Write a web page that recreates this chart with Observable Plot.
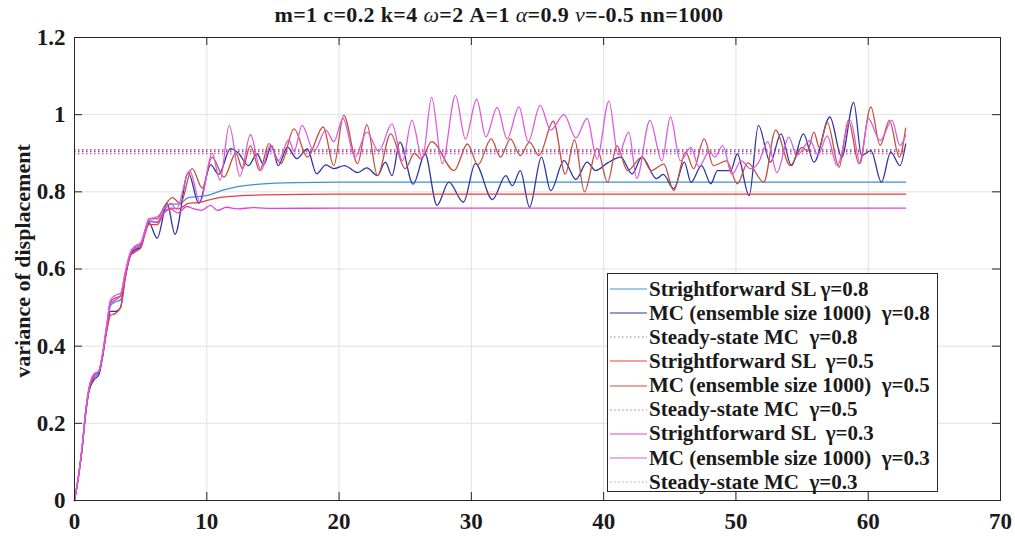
<!DOCTYPE html>
<html>
<head>
<meta charset="utf-8">
<script src="https://cdn.jsdelivr.net/npm/d3@7"></script>
<script src="https://cdn.jsdelivr.net/npm/@observablehq/plot@0.6"></script>
<style>
  body { margin: 0; background: #fff; }
  #wrap { position: relative; width: 1015px; height: 539px; font-family: "Liberation Serif", "Times New Roman", serif; color: #1a1a1a; }
  #title { height: 28px; line-height: 30px; font-size: 22px; letter-spacing: 0.35px; font-weight: bold; text-align: center; padding-right: 17px; white-space: pre; }
  #title i { font-weight: normal; }
  #legend { position: absolute; left: 607px; top: 273px; width: 331px; height: 219px; border: 1px solid #262626; background: #fff; padding-top: 3px; box-sizing: border-box; }
  .row { height: 24.15px; display: flex; align-items: center; font-size: 21px; font-weight: bold; white-space: pre; }
  .row svg { margin-left: 2px; margin-right: 2px; flex: none; }
</style>
</head>
<body>
<div id="wrap">
  <div id="title">m=1 c=0.2 k=4 <i>ω</i>=2 A=1 <i>α</i>=0.9 <i>ν</i>=-0.5 nn=1000</div>
  <div id="chart"></div>
  <div id="legend"></div>
</div>
<script>
// ---- data ----
const T_END = 62.83;
const xTicks = [0, 10, 20, 30, 40, 50, 60, 70];
const yTicks = [0, 0.2, 0.4, 0.6, 0.8, 1, 1.2];

// Straightforward SL, gamma = 0.8
const sl08 = [[0,0],[0.33,0.07],[0.58,0.138],[0.83,0.225],[1.08,0.285],[1.46,0.318],[1.84,0.33],[2.09,0.37],[2.47,0.455],[2.72,0.505],[3.1,0.515],[3.48,0.52],[3.85,0.585],[4.23,0.637],[4.61,0.652],[5.0,0.66],[5.37,0.70],[5.62,0.722],[6.25,0.722],[6.75,0.75],[7.3,0.768],[7.9,0.768],[8.6,0.785],[9.5,0.788],[10.3,0.793],[11.1,0.803],[12.0,0.811],[14.0,0.82],[16.8,0.824],[20.0,0.825],[62.83,0.825]];
// MC (ensemble size 1000), gamma = 0.8
const mc08 = [[0,0],[0.33,0.068],[0.58,0.135],[0.83,0.22],[1.08,0.28],[1.46,0.312],[1.84,0.326],[2.09,0.365],[2.47,0.45],[2.72,0.49],[3.1,0.49],[3.48,0.50],[3.85,0.58],[4.23,0.635],[4.61,0.65],[5.0,0.655],[5.37,0.70],[5.62,0.72],[6.25,0.68],[7.0,0.77],[7.6,0.69],[8.6,0.85],[9.4,0.77],[10.3,0.87],[10.9,0.845],[11.8,0.912],[12.4,0.90],[13.15,0.868],[13.8,0.898],[14.3,0.87],[14.9,0.92],[15.4,0.868],[16.1,0.916],[16.8,0.886],[17.6,0.911],[18.3,0.847],[19.0,0.87],[19.6,0.86],[20.4,0.868],[21.4,0.85],[22.1,0.862],[22.9,0.842],[23.5,0.877],[24.0,0.842],[24.6,0.929],[25.6,0.82],[26.5,0.898],[27.4,0.765],[28.3,0.825],[29.4,0.773],[30.3,0.873],[31.6,0.78],[32.6,0.842],[33.1,0.816],[33.7,0.855],[34.4,0.76],[35.3,0.89],[36.0,0.803],[37.0,0.881],[37.9,0.832],[38.75,0.877],[39.4,0.855],[40.3,0.875],[41.3,0.89],[42.15,0.846],[42.9,0.89],[44.0,0.834],[44.5,0.845],[45.3,0.808],[46.1,0.877],[46.6,0.825],[47.4,0.868],[48.1,0.821],[48.6,0.855],[49.6,0.855],[50.1,0.898],[51.0,0.79],[51.7,0.972],[52.6,0.877],[53.4,0.95],[54.2,0.868],[55.1,0.95],[55.9,0.877],[57.1,0.994],[58.0,0.89],[58.9,1.032],[59.5,0.894],[60.2,0.907],[61.0,0.825],[61.7,0.903],[62.4,0.868],[62.83,0.924]];
// Straightforward SL, gamma = 0.5
const sl05 = [[0,0],[0.33,0.069],[0.58,0.137],[0.83,0.222],[1.08,0.283],[1.46,0.322],[1.84,0.335],[2.09,0.37],[2.47,0.445],[2.72,0.48],[3.1,0.485],[3.48,0.50],[3.85,0.58],[4.23,0.635],[4.61,0.645],[5.0,0.655],[5.37,0.695],[5.62,0.715],[6.25,0.715],[6.75,0.745],[7.3,0.758],[7.9,0.756],[8.6,0.77],[9.5,0.773],[10.5,0.782],[11.8,0.788],[14.3,0.792],[20.0,0.794],[62.83,0.794]];
// MC (ensemble size 1000), gamma = 0.5
const mc05 = [[0,0],[0.33,0.07],[0.58,0.139],[0.83,0.226],[1.08,0.287],[1.46,0.325],[1.84,0.334],[2.09,0.372],[2.47,0.46],[2.72,0.515],[3.1,0.525],[3.48,0.53],[3.85,0.59],[4.23,0.64],[4.61,0.66],[5.0,0.665],[5.37,0.705],[5.62,0.73],[6.25,0.73],[6.75,0.76],[7.4,0.785],[8.0,0.77],[8.9,0.86],[9.65,0.81],[10.4,0.89],[11.3,0.838],[12.2,0.90],[12.7,0.86],[13.3,0.92],[14.0,0.855],[14.7,0.925],[15.6,0.873],[16.6,0.963],[17.6,0.89],[18.8,0.968],[19.6,0.868],[20.35,0.998],[21.4,0.873],[22.1,0.974],[22.9,0.842],[23.9,0.95],[25.0,0.86],[25.7,0.90],[26.2,0.885],[27.0,0.93],[28.7,0.855],[29.7,0.924],[30.5,0.87],[31.5,0.937],[32.2,0.89],[32.95,0.937],[33.7,0.894],[34.4,0.929],[35.1,0.894],[36.2,0.983],[37.1,0.846],[37.8,0.935],[38.55,0.80],[39.5,0.912],[40.3,0.825],[41.0,0.92],[41.8,0.855],[42.9,0.89],[43.6,0.855],[44.55,0.872],[45.3,0.803],[46.2,0.903],[46.8,0.86],[47.6,0.937],[48.3,0.868],[49.3,0.88],[50.1,0.821],[50.9,0.875],[52.1,0.825],[53.0,0.96],[54.1,0.868],[55.0,0.915],[55.4,0.905],[55.9,0.955],[56.3,0.915],[56.9,0.98],[57.8,0.864],[58.5,0.985],[59.3,0.873],[60.2,1.02],[60.9,0.92],[61.6,0.985],[62.35,0.89],[62.83,0.965]];
// Straightforward SL, gamma = 0.3
const sl03 = [[0,0],[0.33,0.07],[0.58,0.139],[0.83,0.226],[1.08,0.287],[1.46,0.324],[1.84,0.333],[2.09,0.372],[2.47,0.458],[2.72,0.51],[3.1,0.52],[3.48,0.53],[3.85,0.59],[4.23,0.64],[4.61,0.656],[5.0,0.662],[5.37,0.70],[5.62,0.725],[6.25,0.72],[6.75,0.745],[7.3,0.755],[7.8,0.745],[8.5,0.762],[9.0,0.756],[9.6,0.752],[10.3,0.765],[10.8,0.752],[11.5,0.76],[12.3,0.756],[13.5,0.759],[15.0,0.757],[20.0,0.758],[62.83,0.758]];
// MC (ensemble size 1000), gamma = 0.3
const mc03 = [[0,0],[0.33,0.07],[0.58,0.14],[0.83,0.228],[1.08,0.29],[1.46,0.328],[1.84,0.336],[2.09,0.375],[2.47,0.465],[2.72,0.52],[3.1,0.532],[3.48,0.537],[3.85,0.595],[4.23,0.645],[4.61,0.66],[5.0,0.668],[5.37,0.705],[5.62,0.73],[6.25,0.735],[6.75,0.755],[7.3,0.77],[7.7,0.755],[8.7,0.855],[9.5,0.773],[10.4,0.90],[11.0,0.83],[11.7,0.972],[12.5,0.84],[13.3,0.948],[14.1,0.855],[14.8,0.92],[15.4,0.88],[16.2,0.935],[16.6,0.905],[17.2,0.972],[18.1,0.905],[19.0,0.96],[19.6,0.93],[20.3,0.99],[21.2,0.89],[22.1,0.955],[23.0,0.905],[24.0,0.976],[24.8,0.88],[25.5,0.985],[26.3,0.886],[27.0,1.045],[27.8,0.873],[28.8,1.05],[29.55,0.937],[30.4,1.04],[31.1,0.942],[31.95,1.019],[32.7,0.937],[33.6,1.02],[34.3,0.93],[35.2,1.024],[36.0,0.96],[37.0,1.0],[37.9,0.94],[38.75,0.99],[39.5,0.885],[40.4,1.035],[41.1,0.895],[41.9,0.955],[42.5,0.835],[43.5,0.985],[44.4,0.88],[45.05,0.994],[45.8,0.88],[46.6,0.915],[47.2,0.865],[48.0,0.905],[48.4,0.89],[49.0,0.92],[49.7,0.845],[50.4,0.88],[51.1,0.86],[51.7,0.875],[52.4,0.93],[53.1,0.85],[54.0,0.942],[54.6,0.894],[55.6,0.933],[56.2,0.895],[56.9,0.945],[57.65,0.868],[58.65,0.985],[59.4,0.873],[60.0,0.99],[60.9,0.933],[61.8,0.985],[62.4,0.92],[62.83,0.946]];
// Steady-state MC values for gamma = 0.8, 0.5, 0.3
const steadyState = [0.909, 0.904, 0.899];

const legendLabels = [
  "Strightforward SL γ=0.8",
  "MC (ensemble size 1000)  γ=0.8",
  "Steady-state MC  γ=0.8",
  "Strightforward SL  γ=0.5",
  "MC (ensemble size 1000)  γ=0.5",
  "Steady-state MC  γ=0.5",
  "Strightforward SL  γ=0.3",
  "MC (ensemble size 1000)  γ=0.3",
  "Steady-state MC  γ=0.3"
];

// ---- styles ----
const col = {
  sl08: "#3f93d0", mc08: "#2b35a3", ss08: "#4a3f9f",
  sl05: "#ec3c3c", mc05: "#c4503c", ss05: "#c0405a",
  sl03: "#e040e0", mc03: "#dc5cdc", ss03: "#d050d0"
};
const W = 1015, H = 511, mL = 74, mR = 15, mT = 9, mB = 39;
const fw = W - mL - mR, fh = H - mT - mB, tickLen = 8;
const dash = "1.5,2.5";
const lineOpts = (c) => ({x: d => d[0], y: d => d[1], stroke: c, strokeWidth: 1.3, curve: "monotone-x"});
const ssRule = (i, c) => Plot.ruleY([steadyState[i]], {y: d => d, x1: 0, x2: T_END, stroke: c, strokeWidth: 1.2, strokeDasharray: dash});

const chart = Plot.plot({
  width: W, height: H,
  marginLeft: mL, marginRight: mR, marginTop: mT, marginBottom: mB,
  x: {domain: [0, 70], label: null},
  y: {domain: [0, 1.2], label: null},
  style: {fontFamily: "'Liberation Serif', 'Times New Roman', serif", fontSize: "23px", fontWeight: "bold", color: "#1a1a1a", background: "#fff", overflow: "visible"},
  marks: [
    Plot.gridX(xTicks, {stroke: "#e2e2e2", strokeOpacity: 1}),
    Plot.gridY(yTicks, {stroke: "#e2e2e2", strokeOpacity: 1}),
    Plot.line(sl08, lineOpts(col.sl08)),
    Plot.line(mc08, lineOpts(col.mc08)),
    ssRule(0, col.ss08),
    Plot.line(sl05, lineOpts(col.sl05)),
    Plot.line(mc05, lineOpts(col.mc05)),
    ssRule(1, col.ss05),
    Plot.line(sl03, lineOpts(col.sl03)),
    Plot.line(mc03, lineOpts(col.mc03)),
    ssRule(2, col.ss03),
    Plot.ruleX(xTicks, {x: d => d, insetTop: fh - tickLen, stroke: "#262626"}),
    Plot.ruleX(xTicks, {x: d => d, insetBottom: fh - tickLen, stroke: "#262626"}),
    Plot.ruleY(yTicks, {y: d => d, insetRight: fw - tickLen, stroke: "#262626"}),
    Plot.ruleY(yTicks, {y: d => d, insetLeft: fw - tickLen, stroke: "#262626"}),
    Plot.frame({stroke: "#262626"}),
    Plot.axisX({ticks: xTicks, tickSize: 0, tickPadding: 12, tickFormat: d => String(d), label: null, fontSize: 23, fontWeight: "bold"}),
    Plot.axisY({ticks: yTicks, tickSize: 0, tickPadding: 9, tickFormat: d => String(+d.toFixed(1)), label: null, fontSize: 23, fontWeight: "bold"}),
    Plot.text(["variance of displacement"], {frameAnchor: "left", textAnchor: "middle", dx: -52, dy: -8, rotate: -90, fontSize: 22, fontWeight: "bold", fill: "#1a1a1a"})
  ]
});
document.getElementById("chart").appendChild(chart);

// ---- legend ----
const legendStyles = [
  [col.sl08, null], [col.mc08, null], [col.ss08, dash],
  [col.sl05, null], [col.mc05, null], [col.ss05, dash],
  [col.sl03, null], [col.mc03, null], [col.ss03, dash]
];
const leg = document.getElementById("legend");
legendLabels.forEach((lab, i) => {
  const row = document.createElement("div");
  row.className = "row";
  const [c, da] = legendStyles[i];
  row.innerHTML = `<svg width="37" height="4"><line x1="0" x2="37" y1="2" y2="2" stroke="${c}" stroke-width="1" ${da ? `stroke-dasharray="${da}" stroke-opacity="0.7"` : ""}/></svg><span>${lab}</span>`;
  leg.appendChild(row);
});
</script>
</body>
</html>
